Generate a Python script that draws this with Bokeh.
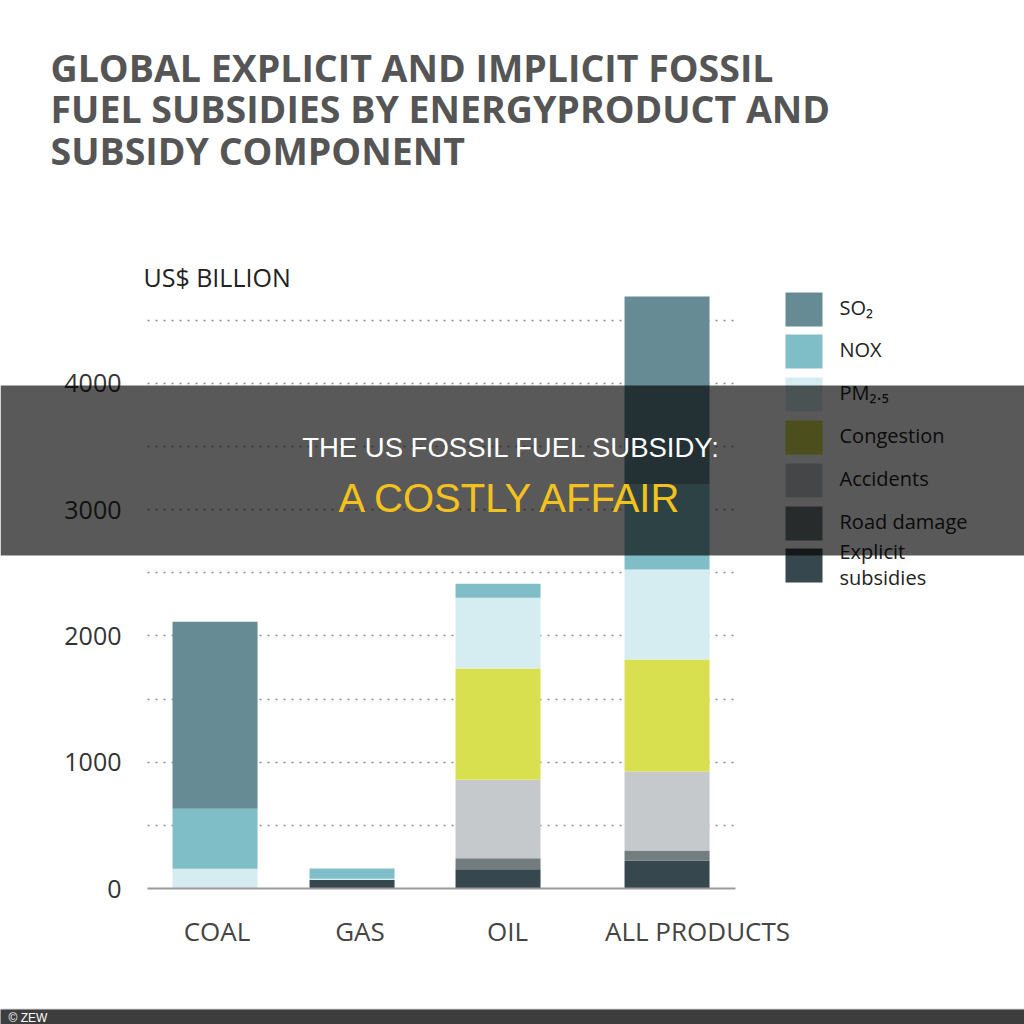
from bokeh.plotting import figure
from bokeh.layouts import column
from bokeh.models import (ColumnDataSource, Range1d, FixedTicker, Grid,
                          BoxAnnotation, Label)
from bokeh.core.properties import value
from bokeh.embed import file_html
from bokeh.resources import INLINE

# ---------------- data ----------------
categories = ["COAL", "GAS", "OIL", "ALL PRODUCTS"]
explicit_subsidies = [0, 68, 153, 222]
road_damage = [0, 0, 87, 79]
accidents = [0, 0, 620, 625]
congestion = [0, 0, 882, 887]
pm25 = [156, 10, 559, 712]
nox = [475, 80, 111, 673]
so2 = [1480, 0, 0, 1489]

y_ticks = [0, 1000, 2000, 3000, 4000]
grid_ticks = [500, 1000, 1500, 2000, 2500, 3000, 3500, 4000, 4500]

# legend (top to bottom)
legend_labels = ["SO₂", "NOX", "PM₂.₅", "Congestion", "Accidents", "Road damage", "Explicit subsidies"]

# ---------------- styling / layout ----------------
stack_keys = ["explicit", "road", "accidents", "congestion", "pm25", "nox", "so2"]
stack_colors = ["#37474e", "#737c7f", "#c5c9cc", "#d9e04f", "#d5ecf0", "#7fbec7", "#668b94"]
legend_colors = stack_colors[::-1]

bar_x = [0.804, 2.435, 4.173, 6.185]
label_x = [0.827, 2.530, 4.286, 6.548]
bar_width = 1.012

W, H_MAIN, H_FOOT = 1024, 1008, 16
X_PX = 84.0              # pixels per x unit
Y_PX = 600.0 / 4750.0    # pixels per y unit
X0_PAGE, Y0_PAGE = 147, 888   # page position of data origin


def px(page_x):
    return (page_x - X0_PAGE) / X_PX


def py(page_y):
    return (Y0_PAGE - page_y) / Y_PX


p = figure(width=W, height=H_MAIN,
           x_range=Range1d(px(0), px(W)), y_range=Range1d(py(H_MAIN), py(0)),
           x_axis_type=None, y_axis_type=None, toolbar_location=None,
           output_backend="svg", min_border_left=0, min_border_right=0,
           min_border_top=0, min_border_bottom=0)
p.outline_line_color = None
p.background_fill_color = "white"
p.border_fill_color = "white"

source = ColumnDataSource(dict(x=bar_x, cat=categories, explicit=explicit_subsidies,
                               road=road_damage, accidents=accidents, congestion=congestion,
                               pm25=pm25, nox=nox, so2=so2))

# grid (dotted, limited to the chart area)
if "cross_bounds" in Grid.properties():
    grid = Grid(dimension=1, ticker=FixedTicker(ticks=grid_ticks), grid_line_color="#8c8c8c",
                grid_line_dash="2 6", grid_line_width=1.6, cross_bounds=(px(147), px(735)))
    p.add_layout(grid)
else:
    p.segment(x0=px(147), x1=px(735), y0=grid_ticks, y1=grid_ticks, line_color="#8c8c8c",
              line_dash="2 6", line_width=1.6, level="underlay")

p.vbar_stack(stack_keys, x="x", width=bar_width, color=stack_colors, source=source,
             line_color=None)

# baseline (x axis line at y = 0)
p.segment(x0=[px(147)], x1=[px(735)], y0=[0], y1=[0], line_color="#9a9a9a", line_width=2)

# y tick labels (drawn from the tick values through the y scale)
p.text(x=[px(121)] * len(y_ticks), y=y_ticks, text=[str(t) for t in y_ticks],
       text_font=value("Open Sans"), text_font_size="25px", text_color="#333333",
       text_align="right", text_baseline="middle")

# category labels
p.text(x=label_x, y=[py(930)] * len(categories), text=categories,
       text_font=value("Open Sans"), text_font_size="26px", text_color="#444444",
       text_align="center", text_baseline="middle")

# title
title_lines = ["GLOBAL EXPLICIT AND IMPLICIT FOSSIL",
               "FUEL SUBSIDIES BY ENERGYPRODUCT AND",
               "SUBSIDY COMPONENT"]
for line, cy in zip(title_lines, [66.5, 108, 149.5]):
    p.add_layout(Label(x=px(50), y=py(cy), text=line, text_font="Open Sans",
                       text_font_style="bold", text_font_size="37.5px", text_color="#555555",
                       text_baseline="middle", text_align="left"))

p.add_layout(Label(x=px(143), y=py(276), text="US$ BILLION", text_font="Open Sans",
                   text_font_size="25px", text_color="#222222",
                   text_baseline="middle", text_align="left"))

# legend
tops = [292, 334, 377, 420, 463, 506, 548]
for lab, col, t in zip(legend_labels, legend_colors, tops):
    p.add_layout(BoxAnnotation(left=px(785), right=px(822), top=py(t), bottom=py(t + 34),
                               fill_color=col, fill_alpha=1.0, line_color=None))
    if lab == "Explicit subsidies":
        for part, cy in zip(["Explicit", "subsidies"], [551, 577]):
            p.add_layout(Label(x=px(839), y=py(cy), text=part, text_font="Open Sans",
                               text_font_size="20px", text_color="#222222",
                               text_baseline="middle", text_align="left"))
    else:
        p.add_layout(Label(x=px(839), y=py(t + 15), text=lab, text_font="Open Sans",
                           text_font_size="20px", text_color="#222222",
                           text_baseline="middle", text_align="left"))

# overlay banner
p.add_layout(BoxAnnotation(top=py(385), bottom=py(555),
                           fill_color="black", fill_alpha=0.65, line_color=None,
                           level="overlay"))
p.add_layout(Label(x=px(511), y=py(447), text="THE US FOSSIL FUEL SUBSIDY:",
                   text_font="Liberation Sans", text_font_size="27.5px", text_color="white",
                   text_baseline="middle", text_align="center", level="overlay"))
p.add_layout(Label(x=px(511), y=py(497), text="A COSTLY AFFAIR",
                   text_font="Liberation Sans", text_font_size="40px", text_color="#f4c21c",
                   text_baseline="middle", text_align="center", level="overlay"))

# footer bar
f = figure(width=W, height=H_FOOT, x_range=Range1d(0, W), y_range=Range1d(0, H_FOOT - 1),
           x_axis_type=None, y_axis_type=None, toolbar_location=None,
           output_backend="svg", min_border_left=0, min_border_right=0,
           min_border_top=1, min_border_bottom=0)
f.outline_line_color = None
f.background_fill_color = "#3d3d3d"
f.border_fill_color = "#b5b5b5"
f.add_layout(Label(x=8, y=7, text="© ZEW", text_font="Liberation Sans",
                   text_font_size="12px", text_color="white", text_baseline="middle",
                   text_align="left"))

layout = column(p, f, spacing=0)
open("out.html", "w").write(file_html(layout, INLINE))
